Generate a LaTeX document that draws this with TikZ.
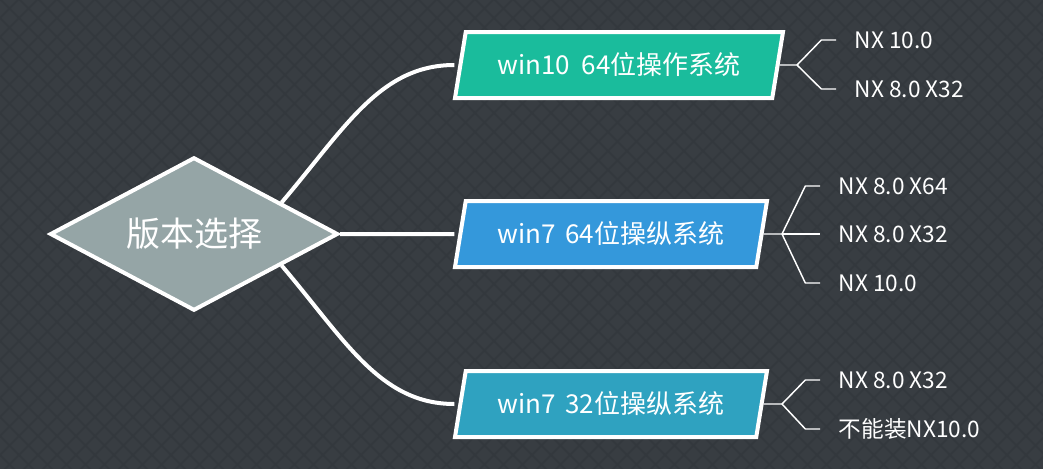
\documentclass[tikz,border=0pt]{standalone}
\usepackage{fontspec}
\setmainfont{Noto Sans CJK SC}
\usetikzlibrary{shapes.geometric,calc}
\definecolor{bgdark}{HTML}{383D42}
\definecolor{bgline}{HTML}{33383D}
\definecolor{rootgray}{HTML}{95A5A6}
\definecolor{tealos}{HTML}{1ABC9C}
\definecolor{blueos}{HTML}{3498DB}
\definecolor{cyanos}{HTML}{2FA2C0}
\begin{document}
\begin{tikzpicture}[x=0.75pt,y=-0.75pt,
    % Estilos de las cajas
    rootbox/.style={diamond, shape aspect=1.9, draw=white, line width=3pt, fill=rootgray,
      text=white, font=\fontsize{25.5}{30}\selectfont, inner sep=0pt,
      minimum width=216pt, minimum height=115pt},
    osbox/.style={trapezium, trapezium left angle=66, trapezium right angle=114,
      trapezium stretches body=true, draw=white, line width=3pt, text=white,
      font=\fontsize{19.5}{23}\selectfont, inner sep=0pt, minimum height=49.5pt},
    % Estilos para los textos y lineas
    leaftext/.style={text=white, font=\fontsize{17}{20}\selectfont, anchor=west,
      inner xsep=14pt, inner ysep=0pt},
    branch/.style={draw=white, line width=3pt},
    twig/.style={draw=white, line width=1.1pt}
]
\useasboundingbox (0,0) rectangle (1043,468);

% --- FONDO ---
\fill[bgdark] (-10,-10) rectangle (1053,478);
\begin{scope}
\clip (-10,-10) rectangle (1053,478);
\foreach \k in {-30,...,85} {
  \draw[bgline, line width=1.2pt] (\k*19,-20) -- ++(520,520);
  \draw[bgline, line width=1.2pt] (\k*19,-20) -- ++(-520,520);
}
\end{scope}

% --- RAIZ ---
\node[rootbox] (root) at (194,234) {版本选择};

% --- SISTEMAS ---
\node[osbox, fill=tealos, minimum width=246pt] (win10) at (619,65) {win10\hspace{0.45em}64位操作系统};
\node[osbox, fill=blueos, minimum width=234pt] (win7a) at (611,234) {win7\hspace{0.35em}64位操纵系统};
\node[osbox, fill=cyanos, minimum width=234pt] (win7b) at (611,404) {win7\hspace{0.35em}32位操纵系统};

\draw[branch] ($(root.east)!0.4!(root.north)$) .. controls (345,128) and (380,65) .. ([xshift=-3pt]win10.west);
\draw[branch] (root.east) -- ([xshift=-3pt]win7a.west);
\draw[branch] ($(root.east)!0.4!(root.south)$) .. controls (345,340) and (380,404) .. ([xshift=-3pt]win7b.west);

% --- VERSIONES NX ---
\coordinate (fork1) at (797,65);
\coordinate (fork2) at (782,234);
\coordinate (fork3) at (782,404);

\node[leaftext] (nx11) at (836,40) {NX 10.0};
\node[leaftext] (nx12) at (836,89) {NX 8.0 X32};
\node[leaftext] (nx21) at (820,186) {NX 8.0 X64};
\node[leaftext] (nx22) at (820,234) {NX 8.0 X32};
\node[leaftext] (nx23) at (820,283) {NX 10.0};
\node[leaftext] (nx31) at (820,380) {NX 8.0 X32};
\node[leaftext] (nx32) at (820,429) {不能装NX10.0};

\draw[twig] (win10.east) -- (fork1);
\draw[twig] (fork1) -- ([xshift=-11pt]nx11.west) -- (nx11.west);
\draw[twig] (fork1) -- ([xshift=-11pt]nx12.west) -- (nx12.west);

\draw[twig] (win7a.east) -- (fork2);
\draw[twig] (fork2) -- ([xshift=-11pt]nx21.west) -- (nx21.west);
\draw[twig] (fork2) -- (nx22.west);
\draw[twig] (fork2) -- ([xshift=-11pt]nx23.west) -- (nx23.west);

\draw[twig] (win7b.east) -- (fork3);
\draw[twig] (fork3) -- ([xshift=-11pt]nx31.west) -- (nx31.west);
\draw[twig] (fork3) -- ([xshift=-11pt]nx32.west) -- (nx32.west);

\end{tikzpicture}
\end{document}
